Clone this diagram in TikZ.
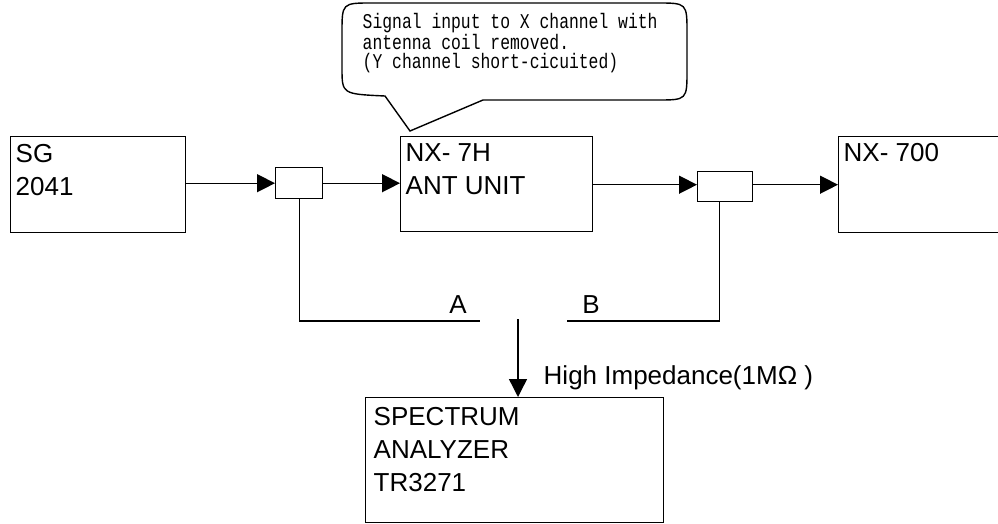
\documentclass[tikz,border=0pt]{standalone}
\usepackage{fontspec}
\setmainfont{Liberation Sans}
\newfontfamily\notefont[FakeStretch=0.78]{Liberation Mono}
\usetikzlibrary{arrows.meta}

\begin{document}
\begin{tikzpicture}[x=1pt,y=-1pt,line width=1.4pt,
  >={Triangle[length=18pt,width=18pt]},
  unit box/.style={draw,rectangle,anchor=north west,inner sep=0pt},
  unit text/.style={anchor=north west,align=left,inner xsep=5pt,inner ysep=8pt,
    font=\fontsize{26}{33}\selectfont},
  tap box/.style={draw,rectangle,anchor=north west,inner sep=0pt,fill=white},
  note text/.style={anchor=north west,align=left,inner sep=0pt,
    font=\notefont\fontsize{21}{19}\selectfont},
  wire label/.style={anchor=base,inner sep=0pt,font=\fontsize{26}{30}\selectfont}]

  \useasboundingbox (0,0) rectangle (998,524);
  \clip (0,0) rectangle (998,524);

  % units
  \node[unit box,minimum width=175pt,minimum height=96pt] (sg) at (10,136) {};
  \node[unit box,minimum width=192pt,minimum height=95pt] (ant) at (400,136) {};
  \node[unit box,minimum width=200pt,minimum height=96pt] (nx) at (838,136) {};
  \node[unit box,minimum width=298pt,minimum height=125pt] (sa) at (365,397) {};
  \node[tap box,minimum width=47pt,minimum height=31pt] (cpl1) at (275,167) {};
  \node[tap box,minimum width=55pt,minimum height=30pt] (cpl2) at (697,171) {};

  \node[unit text] (sg text) at (sg.north west) {SG\\2041};
  \node[unit text,inner ysep=7pt] (ant text) at (ant.north west) {NX- 7H\\ANT UNIT};
  \node[unit text,inner ysep=7pt] (nx text) at (nx.north west) {NX- 700};
  \node[unit text,inner xsep=8pt,inner ysep=10pt] (sa text) at (sa.north west)
    {SPECTRUM\\ANALYZER\\TR3271};

  % callout
  \draw (483,100) -- (657,100) .. controls (687,100) .. (687,70) -- (687,33)
    .. controls (687,3) .. (657,3) -- (372,3) .. controls (342,3) .. (342,33)
    -- (342,68) .. controls (342,94) .. (385,96) -- (410,131) -- cycle;
  \node[note text] (note) at (362,13)
    {Signal input to X channel with\\antenna coil removed.\\(Y channel short-cicuited)};

  % signal path
  \path[->]
    (cpl1.west -| sg.east) edge (cpl1.west)
    (cpl1.east) edge (cpl1.east -| ant.west)
    ([yshift=2pt]cpl2.west -| ant.east) edge ([yshift=2pt]cpl2.west)
    ([yshift=2pt]cpl2.east) edge ([yshift=2pt]cpl2.east -| nx.west)
    ;

  % taps to analyzer
  \coordinate (a end) at (480,321);
  \coordinate (b end) at (567,321);
  \coordinate (tap) at (518,319);
  \draw (cpl1.south) |- (a end);
  \draw ([xshift=-6pt]cpl2.south) |- (b end);
  \draw[->] (tap) -- (tap |- sa.north);

  \node[wire label] (lbl a) at (458,313) {A};
  \node[wire label] (lbl b) at (591,313) {B};
  \node[wire label,anchor=base west] (hi z) at (543,384) {High Impedance(1MΩ )};

\end{tikzpicture}
\end{document}
